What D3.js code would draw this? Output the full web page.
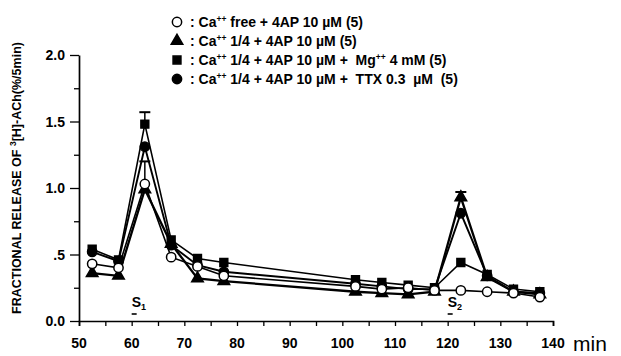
<!DOCTYPE html>
<html><head><meta charset="utf-8">
<script src="https://cdn.jsdelivr.net/npm/d3@7"></script>
<style>
body{margin:0;background:#fff;}
text{font-family:"Liberation Sans",Arial,sans-serif;fill:#000;white-space:pre;}
</style></head>
<body><svg id="c" width="621" height="356"></svg>
<script>
const times = [52.5,57.5,62.5,67.5,72.5,77.5,102.5,107.5,112.5,117.5,122.5,127.5,132.5,137.5];
const caFree   = [0.43,0.40,1.03,0.48,0.41,0.34,0.26,0.24,0.25,0.23,0.23,0.22,0.21,0.18];
const caQuarter= [0.36,0.34,0.99,0.58,0.32,0.30,0.22,0.21,0.20,0.22,0.93,0.33,0.22,0.20];
const caMg     = [0.54,0.46,1.48,0.61,0.47,0.44,0.31,0.29,0.27,0.25,0.44,0.35,0.24,0.22];
const caTTX    = [0.52,0.45,1.31,0.57,0.42,0.37,0.28,0.26,0.24,0.24,0.81,0.34,0.22,0.21];
// upward error bars (SEM): [timeIndex, sem]
const errFree = [[2,0.17]];
const errQuarter = [[10,0.04]];
const errMg = [[2,0.09]];
const xTicks = [50,60,70,80,90,100,110,120,130,140];
const yTicks = [0,0.5,1,1.5,2];
const yTickLabels = ["0.0",".5","1.0","1.5","2.0"];
const stimuli = [{t:60,label:"1"},{t:120,label:"2"}];
const legendLabels = [
  [["Ca",0],["++",1],[" free + 4AP 10 µM (5)",0]],
  [["Ca",0],["++",1],[" 1/4 + 4AP 10 µM (5)",0]],
  [["Ca",0],["++",1],[" 1/4 + 4AP 10 µM +  Mg",0],["++",1],[" 4 mM (5)",0]],
  [["Ca",0],["++",1],[" 1/4 + 4AP 10 µM +  TTX 0.3  µM  (5)",0]]
];

const svg = d3.select("#c");
const x = d3.scaleLinear().domain([50,140]).range([79,553]);
const y = d3.scaleLinear().domain([0,2]).range([321,55]);

// y axis
const yAxis = d3.axisLeft(y).tickValues(d3.range(0,2.01,0.25)).tickSize(0).tickFormat("");
const gy = svg.append("g").attr("transform",`translate(${x(50)},0)`).call(yAxis);
gy.select(".domain").attr("stroke","#000").attr("stroke-width",1.7);
gy.selectAll(".tick line").attr("x2",d=> (Math.abs(d*2-Math.round(d*2))<1e-6)?-9:-5).attr("stroke","#000").attr("stroke-width",1.3);
svg.append("g").selectAll("text").data(yTicks).join("text")
  .attr("x",65).attr("y",d=>y(d)+5).attr("text-anchor","end")
  .attr("font-size",14).attr("font-weight","bold").text((d,i)=>yTickLabels[i]);

// x axis
const xAxis = d3.axisBottom(x).tickValues(d3.range(50,140.1,5)).tickSize(5).tickFormat("");
const gx = svg.append("g").attr("transform",`translate(0,${y(0)})`).call(xAxis);
gx.select(".domain").attr("stroke","#000").attr("stroke-width",1.7);
gx.selectAll(".tick line").attr("stroke","#000").attr("stroke-width",1.3);
svg.append("g").selectAll("text").data(xTicks).join("text")
  .attr("x",d=>x(d)).attr("y",348).attr("text-anchor","middle")
  .attr("font-size",14).attr("font-weight","bold").text(d=>d);
svg.append("text").attr("x",573).attr("y",351).attr("font-size",21).text("min");

// y title
svg.append("text").attr("transform",`translate(21,178) rotate(-90)`)
  .attr("text-anchor","middle").attr("font-size",12.5).attr("font-weight","bold")
  .call(t=>{
    t.append("tspan").text("FRACTIONAL RELEASE OF ");
    t.append("tspan").attr("font-size",8.5).attr("dy",-5).text("3");
    t.append("tspan").attr("dy",5).text("[H]-ACh(%/5min)");
  });

// stimulus markers
stimuli.forEach(s=>{
  svg.append("line").attr("x1",x(s.t)).attr("x2",x(s.t)+5).attr("y1",314).attr("y2",314).attr("stroke","#000").attr("stroke-width",1.6);
  const t = svg.append("text").attr("x",x(s.t)).attr("y",307).attr("font-size",14).attr("font-weight","bold");
  t.append("tspan").text("S");
  t.append("tspan").attr("font-size",9).attr("dy",3).text(s.label);
});

const series = [
  {vals:caFree, sym:"circleOpen", err:errFree, w:1.6},
  {vals:caQuarter, sym:"triangle", err:errQuarter, w:2.3},
  {vals:caMg, sym:"square", err:errMg, w:1.6},
  {vals:caTTX, sym:"circleFilled", err:[], w:1.9}
];
const line = d3.line().x((d,i)=>x(times[i])).y(d=>y(d));
function symGen(sym){
  if(sym==="triangle") return d3.symbol().type(d3.symbolTriangle).size(58)();
  if(sym==="square") return d3.symbol().type(d3.symbolSquare).size(62)();
  return d3.symbol().type(d3.symbolCircle).size(68)();
}
function drawSym(g,sym,cx,cy){
  g.append("path").attr("d",symGen(sym)).attr("transform",`translate(${cx},${cy})`)
   .attr("fill",sym==="circleOpen"?"#fff":"#000").attr("stroke","#000").attr("stroke-width",1.5);
}
// error bars
series.forEach(s=>{
  s.err.forEach(([i,e])=>{
    const cx=x(times[i]), y0=y(s.vals[i]), y1=y(s.vals[i]+e);
    svg.append("line").attr("x1",cx).attr("x2",cx).attr("y1",y0).attr("y2",y1).attr("stroke","#000").attr("stroke-width",1.5);
    svg.append("line").attr("x1",cx-5.5).attr("x2",cx+5.5).attr("y1",y1).attr("y2",y1).attr("stroke","#000").attr("stroke-width",2);
  });
});
// lines
series.forEach(s=>{
  svg.append("path").datum(s.vals).attr("d",line).attr("fill","none").attr("stroke","#000").attr("stroke-width",s.w);
});
// markers
[1,3,2,0].forEach(k=>{
  const s=series[k];
  const g=svg.append("g");
  s.vals.forEach((v,i)=>drawSym(g,s.sym,x(times[i]),y(v)));
});

// legend
const lg = svg.append("g");
legendLabels.forEach((parts,i)=>{
  const yy = 22 + i*19;
  drawSym(lg,series[i].sym,177,yy);
  const t = lg.append("text").attr("x",190).attr("y",yy+5).attr("font-size",14).attr("font-weight","bold");
  t.append("tspan").text(": ");
  let raised=false;
  parts.forEach(([txt,sup])=>{
    const sp=t.append("tspan").text(txt);
    if(sup){ sp.attr("font-size",8.5).attr("dy",-5); raised=true; }
    else if(raised){ sp.attr("dy",5); raised=false; }
  });
});
</script></body></html>
